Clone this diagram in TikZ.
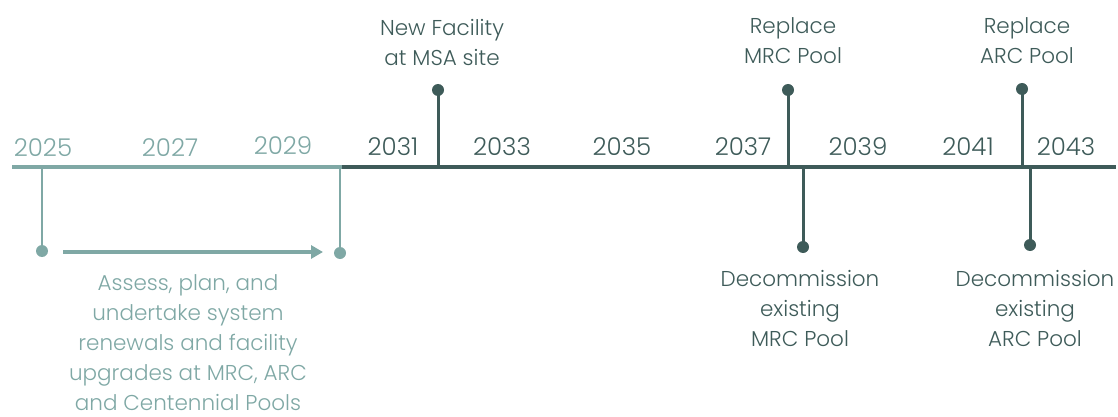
\documentclass[tikz,border=0pt]{standalone}
\usepackage{fontspec}
\IfFontExistsTF{Poppins Light}{\setmainfont{Poppins Light}}{\setmainfont{Poppins}}
\usetikzlibrary{arrows.meta}
\definecolor{tealdark}{HTML}{3E5B59}
\definecolor{teallight}{HTML}{7FA8A5}
\begin{document}
\begin{tikzpicture}[x=1pt,y=-1pt,
  lbl/.style={font=\fontsize{21.5}{30}\selectfont, inner sep=0pt, align=center, anchor=base},
  year/.style={font=\fontsize{24.5}{28}\selectfont, inner sep=0pt, anchor=base},
  dot/.style={circle, fill=#1, inner sep=0pt, minimum size=12pt},
  stem/.style={draw=#1, line width=3pt},
  axis/.style={draw=#1, line width=4pt}]
\useasboundingbox (0,0) rectangle (1118,417);

% timeline axis
\coordinate (L0) at (12,167);
\coordinate (L1) at (342,167);
\coordinate (L2) at (1116,167);
\draw[axis=teallight] (L0) -- (L1);
\draw[axis=tealdark] (L1) -- (L2);

% year labels
\node[year, text=teallight] (y2025) at (43,156) {2025};
\node[year, text=teallight] (y2027) at (170,157) {2027};
\node[year, text=teallight] (y2029) at (283,154) {2029};
\node[year, text=tealdark] (y2031) at (393,155) {2031};
\node[year, text=tealdark] (y2033) at (502,155) {2033};
\node[year, text=tealdark] (y2035) at (622,155) {2035};
\node[year, text=tealdark] (y2037) at (743,155) {2037};
\node[year, text=tealdark] (y2039) at (858,155) {2039};
\node[year, text=tealdark] (y2041) at (968,155) {2041};
\node[year, text=tealdark] (y2043) at (1066,155) {2043};

% renewal period
\coordinate (pA) at (42,167);
\coordinate (pB) at (340,167);
\node[dot=teallight] (dA) at (42,251) {};
\node[dot=teallight] (dB) at (340,253) {};
\draw[stem=teallight, line width=2.5pt] (pA) -- (dA.center);
\draw[stem=teallight, line width=2.5pt] (pB) -- (dB.center);
\coordinate (aS) at (63,252);
\coordinate (aE) at (323,252);
\draw[teallight, line width=4pt, -{Triangle[length=12pt,width=13pt]}] (aS) -- (aE);
\node[lbl, text=teallight] (renew) at (188,410)
  {Assess, plan, and\\undertake system\\renewals and facility\\upgrades at MRC, ARC\\and Centennial Pools};

% milestones above the axis
\coordinate (sNew) at (438,167);
\node[dot=tealdark] (dNew) at (438,90) {};
\draw[stem=tealdark] (dNew.center) -- (sNew);
\node[lbl, text=tealdark] (tNew) at (442,66) {New Facility\\at MSA site};

\coordinate (sMRC) at (788,167);
\node[dot=tealdark] (dMRC) at (788,90) {};
\draw[stem=tealdark] (dMRC.center) -- (sMRC);
\node[lbl, text=tealdark] (tMRC) at (793,64) {Replace\\MRC Pool};

\coordinate (sARC) at (1022,167);
\node[dot=tealdark] (dARC) at (1022,89) {};
\draw[stem=tealdark] (dARC.center) -- (sARC);
\node[lbl, text=tealdark] (tARC) at (1027,64) {Replace\\ARC Pool};

% milestones below the axis
\coordinate (sMRCd) at (803,167);
\node[dot=tealdark] (dMRCd) at (803,247) {};
\draw[stem=tealdark] (sMRCd) -- (dMRCd.center);
\node[lbl, text=tealdark] (tMRCd) at (800,346) {Decommission\\existing\\MRC Pool};

\coordinate (sARCd) at (1030,167);
\node[dot=tealdark] (dARCd) at (1030,245) {};
\draw[stem=tealdark] (sARCd) -- (dARCd.center);
\node[lbl, text=tealdark] (tARCd) at (1035,346) {Decommission\\existing\\ARC Pool};
\end{tikzpicture}
\end{document}
